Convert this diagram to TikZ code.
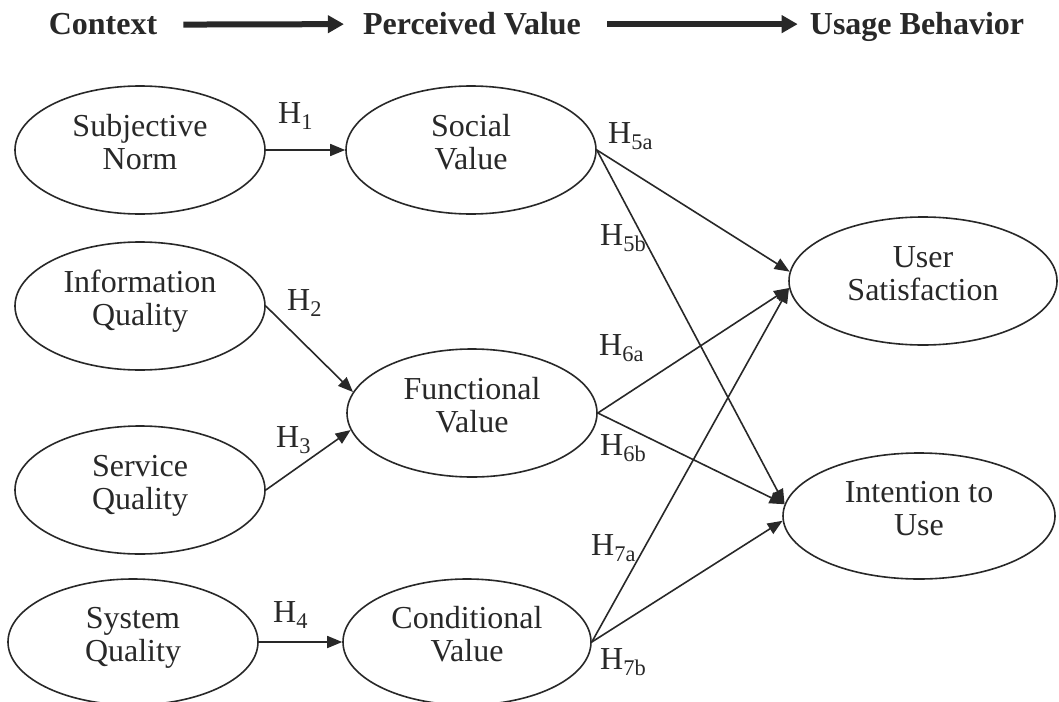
\documentclass[tikz,border=0pt]{standalone}
\usepackage{fontspec}
\setmainfont{Liberation Serif}
\usetikzlibrary{arrows.meta,shapes.geometric}
\definecolor{ink}{RGB}{40,40,40}
\newcommand\twoline[2]{\smash{\raisebox{13.5pt}{\begin{tabular}[t]{@{}c@{}}#1\\#2\end{tabular}}}}
\begin{document}
\begin{tikzpicture}[x=1pt,y=-1pt,
  ell/.style={ellipse,draw=ink,line width=1.6pt,minimum width=250pt,minimum height=128pt,inner sep=0pt,text=ink,font=\fontsize{32}{32.5}\selectfont},
  hyp/.style={anchor=base west,text=ink,font=\fontsize{32}{32.5}\selectfont,inner sep=0pt},
  head/.style={anchor=base,text=ink,font=\bfseries\fontsize{32}{32.5}\selectfont,inner sep=0pt},
  conn/.style={draw=ink,line width=1.6pt,-{Triangle[length=15pt,width=12pt]}},
  bigarrow/.style={draw=ink,line width=6pt,-{Triangle[length=16pt,width=17pt]}}
]
\useasboundingbox (0,0) rectangle (1059,701);
\fill[white] (0,0) rectangle (1059,701);

% header
\node[head] (ctx) at (103,35) {Context};
\node[head] (pv) at (472,35) {Perceived Value};
\node[head] (ub) at (917,35) {Usage Behavior};
\draw[bigarrow] ([xshift=26pt]ctx.east) -- ([xshift=-19pt]pv.west);
\draw[bigarrow] ([xshift=26pt]pv.east) -- ([xshift=-12pt]ub.west |- pv.east);

% left column
\node[ell] (sn) at (140,150) {\twoline{Subjective}{Norm}};
\node[ell] (iq) at (140,306) {\twoline{Information}{Quality}};
\node[ell] (sq) at (140,490) {\twoline{Service}{Quality}};
\node[ell,minimum height=126pt] (syq) at (133,642) {\twoline{System}{Quality}};

% middle column
\node[ell] (sv) at (471,150) {\twoline{Social}{Value}};
\node[ell] (fv) at (472,413) {\twoline{Functional}{Value}};
\node[ell,minimum width=248pt,minimum height=126pt] (cv) at (467,642) {\twoline{Conditional}{Value}};

% right column
\node[ell,minimum width=268pt] (us) at (923,281) {\twoline{User}{Satisfaction}};
\node[ell,minimum width=272pt,minimum height=126pt] (iu) at (919,516) {\twoline{Intention to}{Use}};

% connectors
\draw[conn] (sn.east) -- (sv.west);
\draw[conn] (iq.east) -- (fv.170);
\draw[conn] (sq.east) -- (fv.188);
\draw[conn] (syq.east) -- (cv.west);
\draw[conn] (sv.east) -- (us.176);
\draw[conn] (sv.east) -- (iu.175);
\draw[conn] (fv.east) -- (us.183);
\draw[conn] (fv.east) -- (iu.175);
\draw[conn] (cv.east) -- (us.183);
\draw[conn] (cv.east) -- (iu.182);

% hypothesis labels
\node[hyp] (h1) at (278,123) {H\textsubscript{1}};
\node[hyp] (h2) at (287,310) {H\textsubscript{2}};
\node[hyp] (h3) at (276,447) {H\textsubscript{3}};
\node[hyp] (h4) at (273,622) {H\textsubscript{4}};
\node[hyp] (h5a) at (608,143) {H\textsubscript{5a}};
\node[hyp] (h5b) at (600,245) {H\textsubscript{5b}};
\node[hyp] (h6a) at (599,355) {H\textsubscript{6a}};
\node[hyp] (h6b) at (600,455) {H\textsubscript{6b}};
\node[hyp] (h7a) at (591,555) {H\textsubscript{7a}};
\node[hyp] (h7b) at (600,669) {H\textsubscript{7b}};
\end{tikzpicture}
\end{document}
